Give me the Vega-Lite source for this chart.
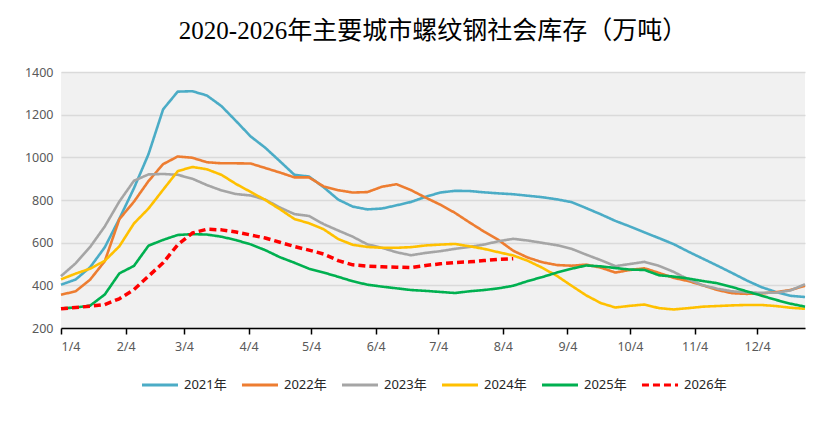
{
  "$schema": "https://vega.github.io/schema/vega-lite/v6.json",
  "autosize": {"type": "none"},
  "padding": {"left": 61, "top": 72, "right": 25, "bottom": 116},
  "width": 744,
  "height": 256,
  "background": "#ffffff",
  "title": {
    "text": "2020-2026年主要城市螺纹钢社会库存（万吨）",
    "font": "Liberation Serif, Noto Sans CJK SC",
    "fontSize": 25,
    "fontWeight": "normal",
    "color": "#000000",
    "anchor": "middle",
    "offset": 22
  },
  "config": {
    "view": {"fill": "#f1f1f1", "stroke": null},
    "axis": {"labelFont": "Noto Sans", "labelFontSize": 12, "labelColor": "#595959"},
    "legend": {"layout": {"bottom": {"anchor": "middle"}}}
  },
  "data": {"values": [
    {"d":"2023-01-04","y":"2021年","v":403},{"d":"2023-01-11","y":"2021年","v":427},{"d":"2023-01-18","y":"2021年","v":485},{"d":"2023-01-25","y":"2021年","v":578},
    {"d":"2023-02-01","y":"2021年","v":712},{"d":"2023-02-08","y":"2021年","v":855},{"d":"2023-02-15","y":"2021年","v":1015},{"d":"2023-02-22","y":"2021年","v":1225},
    {"d":"2023-03-01","y":"2021年","v":1308},{"d":"2023-03-08","y":"2021年","v":1310},{"d":"2023-03-15","y":"2021年","v":1290},{"d":"2023-03-22","y":"2021年","v":1240},
    {"d":"2023-03-29","y":"2021年","v":1170},{"d":"2023-04-05","y":"2021年","v":1098},{"d":"2023-04-12","y":"2021年","v":1045},{"d":"2023-04-19","y":"2021年","v":982},
    {"d":"2023-04-26","y":"2021年","v":918},{"d":"2023-05-03","y":"2021年","v":910},{"d":"2023-05-10","y":"2021年","v":860},{"d":"2023-05-17","y":"2021年","v":802},
    {"d":"2023-05-24","y":"2021年","v":769},{"d":"2023-05-31","y":"2021年","v":756},{"d":"2023-06-07","y":"2021年","v":760},{"d":"2023-06-14","y":"2021年","v":775},
    {"d":"2023-06-21","y":"2021年","v":791},{"d":"2023-06-28","y":"2021年","v":815},{"d":"2023-07-05","y":"2021年","v":835},{"d":"2023-07-12","y":"2021年","v":843},
    {"d":"2023-07-19","y":"2021年","v":842},{"d":"2023-07-26","y":"2021年","v":836},{"d":"2023-08-02","y":"2021年","v":831},{"d":"2023-08-09","y":"2021年","v":827},
    {"d":"2023-08-16","y":"2021年","v":820},{"d":"2023-08-23","y":"2021年","v":813},{"d":"2023-08-30","y":"2021年","v":803},{"d":"2023-09-06","y":"2021年","v":790},
    {"d":"2023-09-13","y":"2021年","v":762},{"d":"2023-09-20","y":"2021年","v":733},{"d":"2023-09-27","y":"2021年","v":702},{"d":"2023-10-04","y":"2021年","v":676},
    {"d":"2023-10-11","y":"2021年","v":648},{"d":"2023-10-18","y":"2021年","v":621},{"d":"2023-10-25","y":"2021年","v":593},{"d":"2023-11-01","y":"2021年","v":558},
    {"d":"2023-11-08","y":"2021年","v":525},{"d":"2023-11-15","y":"2021年","v":492},{"d":"2023-11-22","y":"2021年","v":458},{"d":"2023-11-29","y":"2021年","v":423},
    {"d":"2023-12-06","y":"2021年","v":392},{"d":"2023-12-13","y":"2021年","v":369},{"d":"2023-12-20","y":"2021年","v":351},{"d":"2023-12-27","y":"2021年","v":345},

    {"d":"2023-01-04","y":"2022年","v":356},{"d":"2023-01-11","y":"2022年","v":372},{"d":"2023-01-18","y":"2022年","v":427},{"d":"2023-01-25","y":"2022年","v":513},
    {"d":"2023-02-01","y":"2022年","v":710},{"d":"2023-02-08","y":"2022年","v":792},{"d":"2023-02-15","y":"2022年","v":889},{"d":"2023-02-22","y":"2022年","v":968},
    {"d":"2023-03-01","y":"2022年","v":1004},{"d":"2023-03-08","y":"2022年","v":998},{"d":"2023-03-15","y":"2022年","v":977},{"d":"2023-03-22","y":"2022年","v":972},
    {"d":"2023-03-29","y":"2022年","v":972},{"d":"2023-04-05","y":"2022年","v":971},{"d":"2023-04-12","y":"2022年","v":950},{"d":"2023-04-19","y":"2022年","v":929},
    {"d":"2023-04-26","y":"2022年","v":906},{"d":"2023-05-03","y":"2022年","v":906},{"d":"2023-05-10","y":"2022年","v":864},{"d":"2023-05-17","y":"2022年","v":846},
    {"d":"2023-05-24","y":"2022年","v":835},{"d":"2023-05-31","y":"2022年","v":837},{"d":"2023-06-07","y":"2022年","v":862},{"d":"2023-06-14","y":"2022年","v":874},
    {"d":"2023-06-21","y":"2022年","v":846},{"d":"2023-06-28","y":"2022年","v":811},{"d":"2023-07-05","y":"2022年","v":778},{"d":"2023-07-12","y":"2022年","v":740},
    {"d":"2023-07-19","y":"2022年","v":695},{"d":"2023-07-26","y":"2022年","v":652},{"d":"2023-08-02","y":"2022年","v":612},{"d":"2023-08-09","y":"2022年","v":562},
    {"d":"2023-08-16","y":"2022年","v":530},{"d":"2023-08-23","y":"2022年","v":508},{"d":"2023-08-30","y":"2022年","v":495},{"d":"2023-09-06","y":"2022年","v":492},
    {"d":"2023-09-13","y":"2022年","v":497},{"d":"2023-09-20","y":"2022年","v":483},{"d":"2023-09-27","y":"2022年","v":460},{"d":"2023-10-04","y":"2022年","v":472},
    {"d":"2023-10-11","y":"2022年","v":480},{"d":"2023-10-18","y":"2022年","v":458},{"d":"2023-10-25","y":"2022年","v":435},{"d":"2023-11-01","y":"2022年","v":420},
    {"d":"2023-11-08","y":"2022年","v":400},{"d":"2023-11-15","y":"2022年","v":378},{"d":"2023-11-22","y":"2022年","v":363},{"d":"2023-11-29","y":"2022年","v":360},
    {"d":"2023-12-06","y":"2022年","v":362},{"d":"2023-12-13","y":"2022年","v":368},{"d":"2023-12-20","y":"2022年","v":378},{"d":"2023-12-27","y":"2022年","v":398},

    {"d":"2023-01-04","y":"2023年","v":443},{"d":"2023-01-11","y":"2023年","v":503},{"d":"2023-01-18","y":"2023年","v":580},{"d":"2023-01-25","y":"2023年","v":676},
    {"d":"2023-02-01","y":"2023年","v":793},{"d":"2023-02-08","y":"2023年","v":890},{"d":"2023-02-15","y":"2023年","v":920},{"d":"2023-02-22","y":"2023年","v":922},
    {"d":"2023-03-01","y":"2023年","v":918},{"d":"2023-03-08","y":"2023年","v":900},{"d":"2023-03-15","y":"2023年","v":870},{"d":"2023-03-22","y":"2023年","v":845},
    {"d":"2023-03-29","y":"2023年","v":828},{"d":"2023-04-05","y":"2023年","v":821},{"d":"2023-04-12","y":"2023年","v":802},{"d":"2023-04-19","y":"2023年","v":765},
    {"d":"2023-04-26","y":"2023年","v":734},{"d":"2023-05-03","y":"2023年","v":725},{"d":"2023-05-10","y":"2023年","v":687},{"d":"2023-05-17","y":"2023年","v":657},
    {"d":"2023-05-24","y":"2023年","v":628},{"d":"2023-05-31","y":"2023年","v":592},{"d":"2023-06-07","y":"2023年","v":576},{"d":"2023-06-14","y":"2023年","v":555},
    {"d":"2023-06-21","y":"2023年","v":541},{"d":"2023-06-28","y":"2023年","v":552},{"d":"2023-07-05","y":"2023年","v":560},{"d":"2023-07-12","y":"2023年","v":571},
    {"d":"2023-07-19","y":"2023年","v":580},{"d":"2023-07-26","y":"2023年","v":591},{"d":"2023-08-02","y":"2023年","v":607},{"d":"2023-08-09","y":"2023年","v":618},
    {"d":"2023-08-16","y":"2023年","v":610},{"d":"2023-08-23","y":"2023年","v":599},{"d":"2023-08-30","y":"2023年","v":588},{"d":"2023-09-06","y":"2023年","v":571},
    {"d":"2023-09-13","y":"2023年","v":544},{"d":"2023-09-20","y":"2023年","v":518},{"d":"2023-09-27","y":"2023年","v":490},{"d":"2023-10-04","y":"2023年","v":500},
    {"d":"2023-10-11","y":"2023年","v":510},{"d":"2023-10-18","y":"2023年","v":491},{"d":"2023-10-25","y":"2023年","v":463},{"d":"2023-11-01","y":"2023年","v":428},
    {"d":"2023-11-08","y":"2023年","v":400},{"d":"2023-11-15","y":"2023年","v":384},{"d":"2023-11-22","y":"2023年","v":372},{"d":"2023-11-29","y":"2023年","v":367},
    {"d":"2023-12-06","y":"2023年","v":365},{"d":"2023-12-13","y":"2023年","v":365},{"d":"2023-12-20","y":"2023年","v":376},{"d":"2023-12-27","y":"2023年","v":405},

    {"d":"2023-01-04","y":"2024年","v":428},{"d":"2023-01-11","y":"2024年","v":455},{"d":"2023-01-18","y":"2024年","v":478},{"d":"2023-01-25","y":"2024年","v":515},
    {"d":"2023-02-01","y":"2024年","v":583},{"d":"2023-02-08","y":"2024年","v":690},{"d":"2023-02-15","y":"2024年","v":760},{"d":"2023-02-22","y":"2024年","v":848},
    {"d":"2023-03-01","y":"2024年","v":935},{"d":"2023-03-08","y":"2024年","v":955},{"d":"2023-03-15","y":"2024年","v":944},{"d":"2023-03-22","y":"2024年","v":918},
    {"d":"2023-03-29","y":"2024年","v":875},{"d":"2023-04-05","y":"2024年","v":838},{"d":"2023-04-12","y":"2024年","v":800},{"d":"2023-04-19","y":"2024年","v":757},
    {"d":"2023-04-26","y":"2024年","v":711},{"d":"2023-05-03","y":"2024年","v":691},{"d":"2023-05-10","y":"2024年","v":663},{"d":"2023-05-17","y":"2024年","v":617},
    {"d":"2023-05-24","y":"2024年","v":590},{"d":"2023-05-31","y":"2024年","v":580},{"d":"2023-06-07","y":"2024年","v":576},{"d":"2023-06-14","y":"2024年","v":576},
    {"d":"2023-06-21","y":"2024年","v":579},{"d":"2023-06-28","y":"2024年","v":587},{"d":"2023-07-05","y":"2024年","v":591},{"d":"2023-07-12","y":"2024年","v":594},
    {"d":"2023-07-19","y":"2024年","v":583},{"d":"2023-07-26","y":"2024年","v":571},{"d":"2023-08-02","y":"2024年","v":555},{"d":"2023-08-09","y":"2024年","v":540},
    {"d":"2023-08-16","y":"2024年","v":515},{"d":"2023-08-23","y":"2024年","v":482},{"d":"2023-08-30","y":"2024年","v":444},{"d":"2023-09-06","y":"2024年","v":398},
    {"d":"2023-09-13","y":"2024年","v":353},{"d":"2023-09-20","y":"2024年","v":317},{"d":"2023-09-27","y":"2024年","v":296},{"d":"2023-10-04","y":"2024年","v":304},
    {"d":"2023-10-11","y":"2024年","v":310},{"d":"2023-10-18","y":"2024年","v":293},{"d":"2023-10-25","y":"2024年","v":287},{"d":"2023-11-01","y":"2024年","v":293},
    {"d":"2023-11-08","y":"2024年","v":300},{"d":"2023-11-15","y":"2024年","v":303},{"d":"2023-11-22","y":"2024年","v":306},{"d":"2023-11-29","y":"2024年","v":308},
    {"d":"2023-12-06","y":"2024年","v":308},{"d":"2023-12-13","y":"2024年","v":303},{"d":"2023-12-20","y":"2024年","v":295},{"d":"2023-12-27","y":"2024年","v":290},

    {"d":"2023-01-04","y":"2025年","v":292},{"d":"2023-01-11","y":"2025年","v":296},{"d":"2023-01-18","y":"2025年","v":305},{"d":"2023-01-25","y":"2025年","v":357},
    {"d":"2023-02-01","y":"2025年","v":456},{"d":"2023-02-08","y":"2025年","v":491},{"d":"2023-02-15","y":"2025年","v":586},{"d":"2023-02-22","y":"2025年","v":613},
    {"d":"2023-03-01","y":"2025年","v":636},{"d":"2023-03-08","y":"2025年","v":640},{"d":"2023-03-15","y":"2025年","v":638},{"d":"2023-03-22","y":"2025年","v":628},
    {"d":"2023-03-29","y":"2025年","v":612},{"d":"2023-04-05","y":"2025年","v":592},{"d":"2023-04-12","y":"2025年","v":565},{"d":"2023-04-19","y":"2025年","v":532},
    {"d":"2023-04-26","y":"2025年","v":506},{"d":"2023-05-03","y":"2025年","v":478},{"d":"2023-05-10","y":"2025年","v":460},{"d":"2023-05-17","y":"2025年","v":440},
    {"d":"2023-05-24","y":"2025年","v":419},{"d":"2023-05-31","y":"2025年","v":403},{"d":"2023-06-07","y":"2025年","v":394},{"d":"2023-06-14","y":"2025年","v":386},
    {"d":"2023-06-21","y":"2025年","v":378},{"d":"2023-06-28","y":"2025年","v":374},{"d":"2023-07-05","y":"2025年","v":369},{"d":"2023-07-12","y":"2025年","v":364},
    {"d":"2023-07-19","y":"2025年","v":372},{"d":"2023-07-26","y":"2025年","v":378},{"d":"2023-08-02","y":"2025年","v":386},{"d":"2023-08-09","y":"2025年","v":398},
    {"d":"2023-08-16","y":"2025年","v":420},{"d":"2023-08-23","y":"2025年","v":439},{"d":"2023-08-30","y":"2025年","v":460},{"d":"2023-09-06","y":"2025年","v":478},
    {"d":"2023-09-13","y":"2025年","v":493},{"d":"2023-09-20","y":"2025年","v":489},{"d":"2023-09-27","y":"2025年","v":481},{"d":"2023-10-04","y":"2025年","v":474},
    {"d":"2023-10-11","y":"2025年","v":472},{"d":"2023-10-18","y":"2025年","v":447},{"d":"2023-10-25","y":"2025年","v":441},{"d":"2023-11-01","y":"2025年","v":432},
    {"d":"2023-11-08","y":"2025年","v":420},{"d":"2023-11-15","y":"2025年","v":410},{"d":"2023-11-22","y":"2025年","v":392},{"d":"2023-11-29","y":"2025年","v":372},
    {"d":"2023-12-06","y":"2025年","v":352},{"d":"2023-12-13","y":"2025年","v":332},{"d":"2023-12-20","y":"2025年","v":314},{"d":"2023-12-27","y":"2025年","v":300},

    {"d":"2023-01-04","y":"2026年","v":290},{"d":"2023-01-11","y":"2026年","v":296},{"d":"2023-01-18","y":"2026年","v":302},{"d":"2023-01-25","y":"2026年","v":310},
    {"d":"2023-02-01","y":"2026年","v":337},{"d":"2023-02-08","y":"2026年","v":380},{"d":"2023-02-15","y":"2026年","v":443},{"d":"2023-02-22","y":"2026年","v":506},
    {"d":"2023-03-01","y":"2026年","v":590},{"d":"2023-03-08","y":"2026年","v":645},{"d":"2023-03-15","y":"2026年","v":663},{"d":"2023-03-22","y":"2026年","v":660},
    {"d":"2023-03-29","y":"2026年","v":650},{"d":"2023-04-05","y":"2026年","v":636},{"d":"2023-04-12","y":"2026年","v":622},{"d":"2023-04-19","y":"2026年","v":602},
    {"d":"2023-04-26","y":"2026年","v":582},{"d":"2023-05-03","y":"2026年","v":565},{"d":"2023-05-10","y":"2026年","v":547},{"d":"2023-05-17","y":"2026年","v":516},
    {"d":"2023-05-24","y":"2026年","v":496},{"d":"2023-05-31","y":"2026年","v":490},{"d":"2023-06-07","y":"2026年","v":487},{"d":"2023-06-14","y":"2026年","v":485},
    {"d":"2023-06-21","y":"2026年","v":483},{"d":"2023-06-28","y":"2026年","v":493},{"d":"2023-07-05","y":"2026年","v":501},{"d":"2023-07-12","y":"2026年","v":507},
    {"d":"2023-07-19","y":"2026年","v":510},{"d":"2023-07-26","y":"2026年","v":516},{"d":"2023-08-02","y":"2026年","v":522},{"d":"2023-08-09","y":"2026年","v":525}
  ]},
  "mark": {"type": "line", "strokeCap": "butt", "strokeJoin": "round"},
  "encoding": {
    "x": {
      "field": "d",
      "type": "temporal",
      "scale": {"type": "utc", "domain": [{"year": 2023, "month": 1, "date": 4, "utc": true}, {"year": 2023, "month": 12, "date": 27, "utc": true}]},
      "axis": {
        "title": null,
        "values": [
          {"year": 2023, "month": 1, "date": 4, "utc": true}, {"year": 2023, "month": 2, "date": 4, "utc": true},
          {"year": 2023, "month": 3, "date": 4, "utc": true}, {"year": 2023, "month": 4, "date": 4, "utc": true},
          {"year": 2023, "month": 5, "date": 4, "utc": true}, {"year": 2023, "month": 6, "date": 4, "utc": true},
          {"year": 2023, "month": 7, "date": 4, "utc": true}, {"year": 2023, "month": 8, "date": 4, "utc": true},
          {"year": 2023, "month": 9, "date": 4, "utc": true}, {"year": 2023, "month": 10, "date": 4, "utc": true},
          {"year": 2023, "month": 11, "date": 4, "utc": true}, {"year": 2023, "month": 12, "date": 4, "utc": true}
        ],
        "labelExpr": "utcFormat(datum.value, '%-m/%-d')",
        "grid": false,
        "domainColor": "#000000",
        "domainWidth": 1.5,
        "tickColor": "#000000",
        "tickWidth": 1.5,
        "tickSize": 6,
        "labelPadding": 6,
        "labelFontSize": 12.5
      }
    },
    "y": {
      "field": "v",
      "type": "quantitative",
      "scale": {"domain": [200, 1400], "nice": false},
      "axis": {
        "title": null,
        "values": [200, 400, 600, 800, 1000, 1200, 1400],
        "format": "d",
        "domain": false,
        "ticks": false,
        "labelPadding": 8,
        "gridColor": "#dadada",
        "gridWidth": 1.5,
        "labelFontSize": 12.5
      }
    },
    "color": {
      "field": "y",
      "type": "nominal",
      "scale": {
        "domain": ["2021年", "2022年", "2023年", "2024年", "2025年", "2026年"],
        "range": ["#4bacc6", "#ed7d31", "#a5a5a5", "#ffc000", "#00b050", "#ff0000"]
      },
      "legend": {
        "title": null,
        "orient": "bottom",
        "direction": "horizontal",
        "symbolType": "stroke",
        "symbolSize": 1300,
        "symbolStrokeWidth": 3,
        "labelFont": "Noto Sans, Noto Sans CJK SC",
        "labelFontSize": 13,
        "labelColor": "#262626",
        "columnPadding": 8,
        "offset": 12
      }
    },
    "strokeDash": {
      "field": "y",
      "type": "nominal",
      "scale": {
        "domain": ["2021年", "2022年", "2023年", "2024年", "2025年", "2026年"],
        "range": [[1, 0], [1, 0], [1, 0], [1, 0], [1, 0], [7, 4]]
      },
      "legend": null
    },
    "strokeWidth": {
      "condition": {"test": "datum.y === '2026年'", "value": 3.5},
      "value": 2.6
    }
  }
}
